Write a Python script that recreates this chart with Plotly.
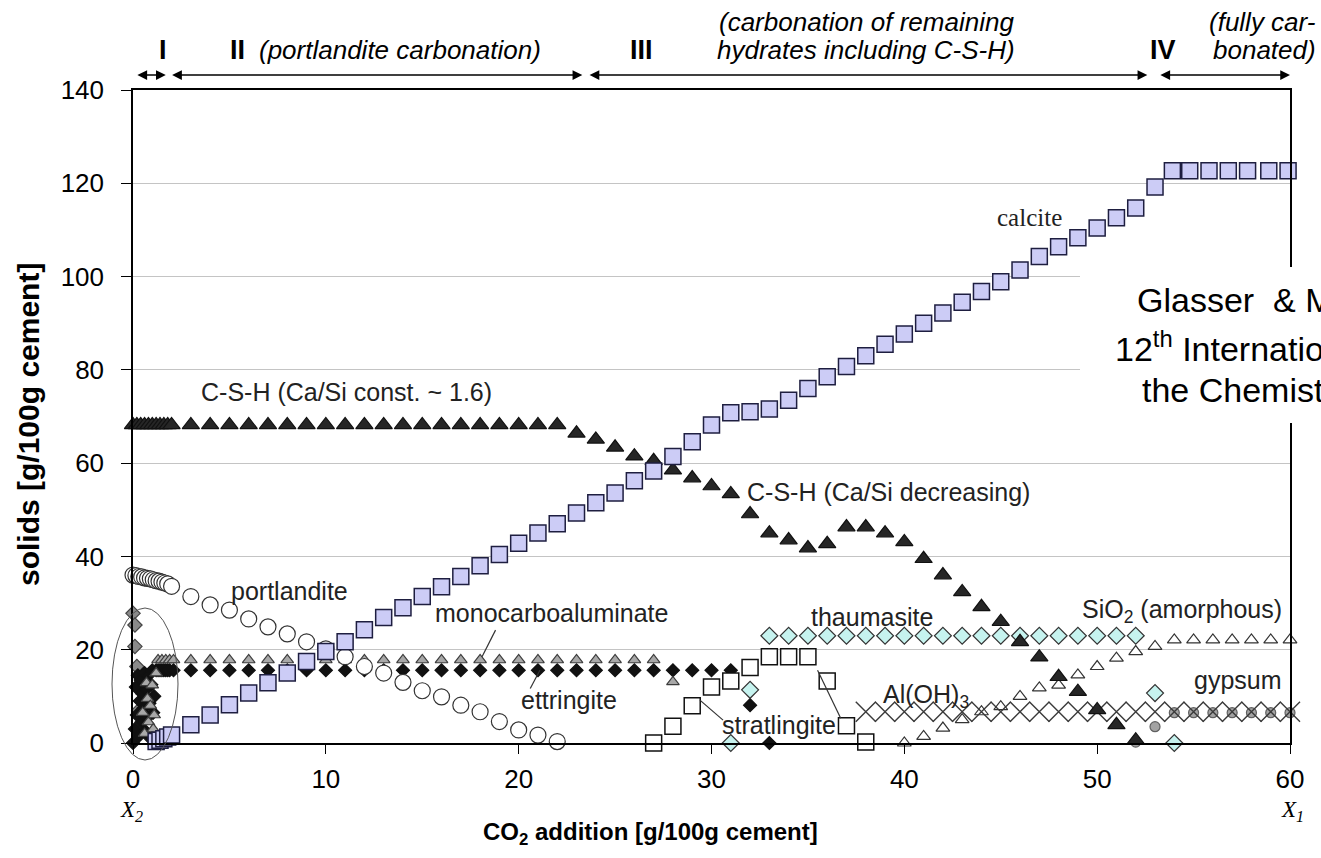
import plotly.graph_objects as go

# ------------------------------------------------------------------ data
calcite_x = [1.2, 1.4, 1.6, 1.8, 2, 3, 4, 5, 6, 7, 8, 9, 10, 11, 12, 13, 14, 15, 16, 17, 18, 19, 20,
             21, 22, 23, 24, 25, 26, 27, 28, 29, 30, 31, 32, 33, 34, 35, 36, 37, 38, 39, 40,
             41, 42, 43, 44, 45, 46, 47, 48, 49, 50, 51, 52, 53,
             53.9, 54.8, 55.8, 56.8, 57.8, 58.9, 59.9]
calcite_y = [0.3, 0.6, 0.9, 1.3, 1.7, 3.9, 6.0, 8.2, 10.7, 12.9, 15.0, 17.5, 19.6, 21.7, 24.3, 26.9,
             29.0, 31.4, 33.5, 35.7, 38.0, 40.4, 42.8, 45.0, 47.0, 49.3, 51.5, 53.6, 56.2, 58.3,
             61.4, 64.6, 68.2, 70.8, 71.0, 71.6, 73.5, 76.0, 78.5, 80.7, 83.0, 85.5, 87.7,
             90.0, 92.2, 94.5, 96.8, 98.9, 101.4, 104.3, 106.4, 108.3, 110.4, 112.6, 114.7, 119.2,
             122.7, 122.7, 122.7, 122.7, 122.7, 122.7, 122.7]

csh_x = [0, 0.2, 0.4, 0.6, 0.8, 1.0, 1.2, 1.4, 1.6, 1.8,
         2, 3, 4, 5, 6, 7, 8, 9, 10, 11, 12, 13, 14, 15, 16, 17, 18, 19, 20, 21, 22,
         23, 24, 25, 26, 27, 28, 29, 30, 31, 32, 33, 34, 35, 36, 37, 38, 39, 40,
         41, 42, 43, 44, 45, 46, 47, 48, 49, 50, 51, 52]
csh_y = [68.2, 68.2, 68.2, 68.2, 68.2, 68.2, 68.2, 68.2, 68.2, 68.2,
         68.2, 68.2, 68.2, 68.2, 68.2, 68.2, 68.2, 68.2, 68.2, 68.2, 68.2, 68.2, 68.2, 68.2,
         68.2, 68.2, 68.2, 68.2, 68.2, 68.2, 68.2,
         66.4, 65.1, 63.4, 61.5, 60.5, 58.5, 56.8, 55.1, 53.4, 49.1, 45.0, 43.5, 41.8, 42.7,
         46.3, 46.3, 45.0, 43.1, 39.5, 36.0, 32.4, 29.2, 26.0, 21.7, 18.4, 14.2, 11.0, 7.1,
         3.9, 0.6]

portlandite_x = [0, 0.15, 0.3, 0.45, 0.6, 0.75, 0.9, 1.05, 1.2, 1.35, 1.5, 1.65, 1.8,
                 2, 3, 4, 5, 6, 7, 8, 9, 10, 11, 12, 13, 14, 15, 16, 17, 18, 19, 20, 21, 22]
portlandite_y = [36.0, 35.9, 35.7, 35.6, 35.4, 35.3, 35.2, 35.0, 34.8, 34.7, 34.5, 34.3, 34.1,
                 33.6, 31.4, 29.6, 28.5, 26.6, 24.9, 23.4, 21.7, 20.2, 18.5, 16.4, 15.0, 13.0,
                 11.2, 9.9, 8.1, 6.7, 4.6, 2.8, 1.7, 0.3]

monocarbo_x = [0.5, 0.6, 0.7, 0.75, 0.8, 0.9, 1.0, 1.05, 1.1, 1.2, 1.3, 1.5, 1.7, 1.9, 2.1,
               3, 4, 5, 6, 7, 8, 9, 10, 11, 12, 13, 14, 15, 16, 17, 18, 19, 20,
               21, 22, 23, 24, 25, 26, 27, 28]
monocarbo_y = [6.5, 2.0, 12.9, 9.5, 4.5, 8.0, 12.4, 3.0, 6.0, 15.0, 17.8, 17.8, 17.8, 17.8,
               17.8, 17.8, 17.8, 17.8, 17.8, 17.8, 17.8, 17.8, 17.8, 17.8, 17.8, 17.8, 17.8,
               17.8, 17.8, 17.8, 17.8, 17.8, 17.8, 17.8, 17.8, 17.8, 17.8, 17.8, 17.8, 17.8, 13.1]

ettringite_x = [0.0, 0.1, 0.15, 0.2, 0.25, 0.3, 0.35, 0.4, 0.45, 0.5, 0.55, 0.6, 0.65, 0.7,
                0.75, 0.8, 0.85, 0.9, 0.95, 1.0, 1.05, 1.1, 1.2, 1.3, 1.4, 1.5, 1.6, 1.7, 1.8,
                1.9, 2.1,
                3, 4, 5, 6, 7, 8, 9, 10, 11, 12, 13, 14, 15, 16, 17, 18, 19, 20, 21, 22, 23,
                24, 25, 26, 27, 28, 29, 30, 31, 32, 33]
ettringite_y = [0.0, 3.0, 12.0, 6.0, 14.5, 1.5, 9.0, 13.5, 4.5, 10.5, 7.5, 15.0, 2.5, 11.5,
                5.5, 14.5, 8.5, 1.0, 12.5, 15.6, 6.5, 10.0, 15.6, 15.6, 15.6, 15.6, 15.6, 15.6,
                15.6, 15.6, 15.6,
                15.6, 15.6, 15.6, 15.6, 15.6, 15.6, 15.6, 15.6, 15.6, 15.6, 15.6, 15.6, 15.6,
                15.6, 15.6, 15.6, 15.6, 15.6, 15.6, 15.6, 15.6, 15.6, 15.6, 15.6, 15.6, 15.6,
                15.6, 15.6, 15.6, 8.1, 0.0]

monosulfate_x = [0.0, 0.1, 0.1, 0.2, 0.3, 0.3]
monosulfate_y = [27.8, 25.3, 20.7, 16.4, 12.0, 7.0]

thaumasite_x = [31, 32, 33, 34, 35, 36, 37, 38, 39, 40, 41, 42, 43, 44, 45, 46, 47, 48, 49,
                50, 51, 52, 53, 54]
thaumasite_y = [0.0, 11.4, 23.0, 23.0, 23.0, 23.0, 23.0, 23.0, 23.0, 23.0, 23.0, 23.0, 23.0,
                23.0, 23.0, 23.0, 23.0, 23.0, 23.0, 23.0, 23.0, 23.0, 10.7, 0.0]

stratlingite_x = [27, 28, 29, 30, 31, 32, 33, 34, 35, 36, 37, 38]
stratlingite_y = [0.0, 3.6, 8.0, 12.0, 13.3, 16.2, 18.5, 18.5, 18.5, 13.3, 3.7, 0.2]

aloh3_x = [38, 39, 40, 41, 42, 43, 44, 45, 46, 47, 48, 49, 50, 51, 52, 53, 54, 55, 56, 57,
           58, 59, 60]
aloh3_y = [6.7, 6.7, 6.7, 6.7, 6.7, 6.7, 6.7, 6.7, 6.7, 6.7, 6.7, 6.7, 6.7, 6.7, 6.7, 6.7,
           6.7, 6.7, 6.7, 6.7, 6.7, 6.7, 6.7]

sio2_x = [40, 41, 42, 43, 44, 45, 46, 47, 48, 49, 50, 51, 52, 53, 54, 55, 56, 57, 58, 59, 60]
sio2_y = [0.0, 1.4, 3.2, 5.0, 6.7, 7.8, 10.0, 11.8, 12.4, 14.6, 16.4, 18.2, 19.6, 20.7,
          22.1, 22.1, 22.1, 22.1, 22.1, 22.1, 22.1]

gypsum_x = [52, 53, 54, 55, 56, 57, 58, 59, 60]
gypsum_y = [0.2, 3.5, 6.5, 6.5, 6.5, 6.5, 6.5, 6.5, 6.5]

x_ticks = [0, 10, 20, 30, 40, 50, 60]
y_ticks = [0, 20, 40, 60, 80, 100, 120, 140]

# ------------------------------------------------------------------ layout geometry
W, H = 1321, 858
ML, MR, MT, MB = 133, 31, 90, 115
PW, PH = W - ML - MR, H - MT - MB


def px_x(px):
    return (px - ML) / PW


def px_y(py):
    return (H - MB - py) / PH


fig = go.Figure()


def add(x, y, symbol, size, fill, line_col, lw=1.2):
    fig.add_trace(go.Scatter(
        x=x, y=y, mode="markers", cliponaxis=False, showlegend=False, hoverinfo="skip",
        marker=dict(symbol=symbol, size=size, color=fill, line=dict(color=line_col, width=lw))))


add(monosulfate_x, monosulfate_y, "diamond", 11, "#8a8a8a", "#444444")
add(gypsum_x, gypsum_y, "circle", 10, "#a3a3a3", "#606060")
add(sio2_x, sio2_y, "triangle-up", 12, "white", "#333333")
add(aloh3_x, aloh3_y, "x-thin-open", 20, "#3a3a3a", "#3a3a3a", 1.4)
add(ettringite_x, ettringite_y, "diamond", 10, "#111111", "#111111")
add(monocarbo_x, monocarbo_y, "triangle-up", 11, "#a8a8a8", "#3c3c3c")
add(portlandite_x, portlandite_y, "circle", 16, "white", "#333333")
add(stratlingite_x, stratlingite_y, "square", 16, "white", "#111111", 1.5)
add(thaumasite_x, thaumasite_y, "diamond", 13, "#c6f3ef", "#333333")
add(csh_x, csh_y, "triangle-up", 15, "#262626", "#111111")
add(calcite_x, calcite_y, "square", 16, "#ccccf6", "#1e1e40", 1.5)

axis_font = dict(family="Liberation Sans, Arial", size=26, color="black")
fig.update_layout(
    width=W, height=H, margin=dict(l=ML, r=MR, t=MT, b=MB, pad=0),
    paper_bgcolor="white", plot_bgcolor="white",
    xaxis=dict(range=[0, 60], tickvals=x_ticks, ticks="outside", ticklen=9, tickwidth=1.3,
               tickcolor="black", showline=True, linecolor="black", linewidth=1.5,
               mirror=True, showgrid=False, zeroline=False, tickfont=axis_font,
               ticklabelstandoff=3),
    yaxis=dict(range=[0, 140], tickvals=y_ticks, ticks="outside", ticklen=10, tickwidth=1.3,
               tickcolor="black", showline=True, linecolor="black", linewidth=1.5,
               mirror=True, showgrid=True, gridcolor="#c4c4c4", gridwidth=1.2,
               zeroline=False, tickfont=axis_font, ticklabelstandoff=12),
)

shapes = []
# ellipse around the initial cluster
shapes.append(dict(type="circle", xref="paper", yref="paper",
                   x0=px_x(112), x1=px_x(178), y0=px_y(760), y1=px_y(608),
                   line=dict(color="#555555", width=1)))
# white box behind reference text
shapes.append(dict(type="rect", xref="paper", yref="paper", layer="above",
                   x0=px_x(1080), x1=px_x(1340), y0=px_y(423), y1=px_y(267),
                   fillcolor="white", line=dict(width=0)))
# leader lines
for (x0, y0, x1, y1) in [(18.8, 24.2, 18.1, 18.5), (20.6, 11.7, 21.1, 15.6),
                         (29.4, 9.2, 30.6, 4.9), (35.5, 15.6, 36.7, 5.3)]:
    shapes.append(dict(type="line", xref="x", yref="y", x0=x0, y0=y0, x1=x1, y1=y1,
                       line=dict(color="#333333", width=1.2)))
fig.update_layout(shapes=shapes)

ann = []
lab_font = dict(family="Liberation Sans, Arial", size=25, color="#222222")


def lab(text, x, y, xanchor="center", font=lab_font):
    ann.append(dict(text=text, x=x, y=y, xref="x", yref="y", showarrow=False,
                    xanchor=xanchor, yanchor="middle", font=font))


lab("portlandite", 8.1, 32.5)
lab("monocarboaluminate", 21.7, 27.9)
lab("ettringite", 22.6, 9.2)
lab("stratlingite", 33.5, 3.9)
lab("Al(OH)<sub>3</sub>", 41.1, 10.0)
lab("thaumasite", 38.3, 27.0)
lab("SiO<sub>2</sub> (amorphous)", 54.4, 28.3)
lab("gypsum", 57.3, 13.5)
lab("calcite", 46.5, 112.6, font=dict(family="Liberation Serif, Times New Roman", size=25,
                                      color="#222222"))
lab("C-S-H (Ca/Si const. ~ 1.6)", 3.4, 75.3, xanchor="left")
lab("C-S-H (Ca/Si decreasing)", 31.75, 53.8, xanchor="left")


def ptext(text, px, py, xanchor="center", size=25, family="Liberation Sans, Arial",
          color="black", angle=0):
    ann.append(dict(text=text, x=px_x(px), y=px_y(py), xref="paper", yref="paper",
                    showarrow=False, xanchor=xanchor, yanchor="middle", textangle=angle,
                    font=dict(family=family, size=size, color=color)))


# region labels
ptext("<b>I</b>", 163, 50, size=27)
ptext("<b>II</b>", 228, 50, xanchor="left", size=27)
ptext("<i>(portlandite carbonation)</i>", 257, 50, xanchor="left", size=26)
ptext("<b>III</b>", 641, 50, size=27)
ptext("<i>(carbonation of remaining</i>", 866, 22, size=26)
ptext("<i>hydrates including C-S-H)</i>", 866, 50, size=26)
ptext("<b>IV</b>", 1163, 50, size=27)
ptext("<i>(fully car-</i>", 1318, 22, xanchor="right", size=26)
ptext("<i>bonated)</i>", 1318, 50, xanchor="right", size=26)

# axis titles and X markers
ptext("<b>solids [g/100g cement]</b>", 28, 425, size=30, angle=-90)
ptext("<b>CO<sub>2</sub> addition [g/100g cement]</b>", 650, 833, size=24)
ptext("<i>X<sub>2</sub></i>", 131, 811, size=23, family="Liberation Serif, Times New Roman")
ptext("<i>X<sub>1</sub></i>", 1292, 811, size=23, family="Liberation Serif, Times New Roman")

# reference text (cut at right edge)
ptext("Glasser  &amp; Matschei, 2007", 1135, 300, xanchor="left", size=34)
ptext("12<sup>th</sup> International Congress on", 1113, 346, xanchor="left", size=34)
ptext("the Chemistry of Cement,", 1140, 390, xanchor="left", size=34)

# region arrows
arrow_y = px_y(75)
for (xa, xb) in [(0.15, 1.7), (1.95, 23.3), (23.6, 52.6), (53.2, 60)]:
    ann.append(dict(text="", x=xb, y=arrow_y, xref="x", yref="paper", ax=xa, ay=0,
                    axref="x", ayref="pixel", showarrow=True, arrowside="end+start",
                    arrowhead=2, arrowsize=1.3, arrowwidth=1.5, arrowcolor="black"))

fig.update_layout(annotations=ann)
fig.write_html("out.html")
